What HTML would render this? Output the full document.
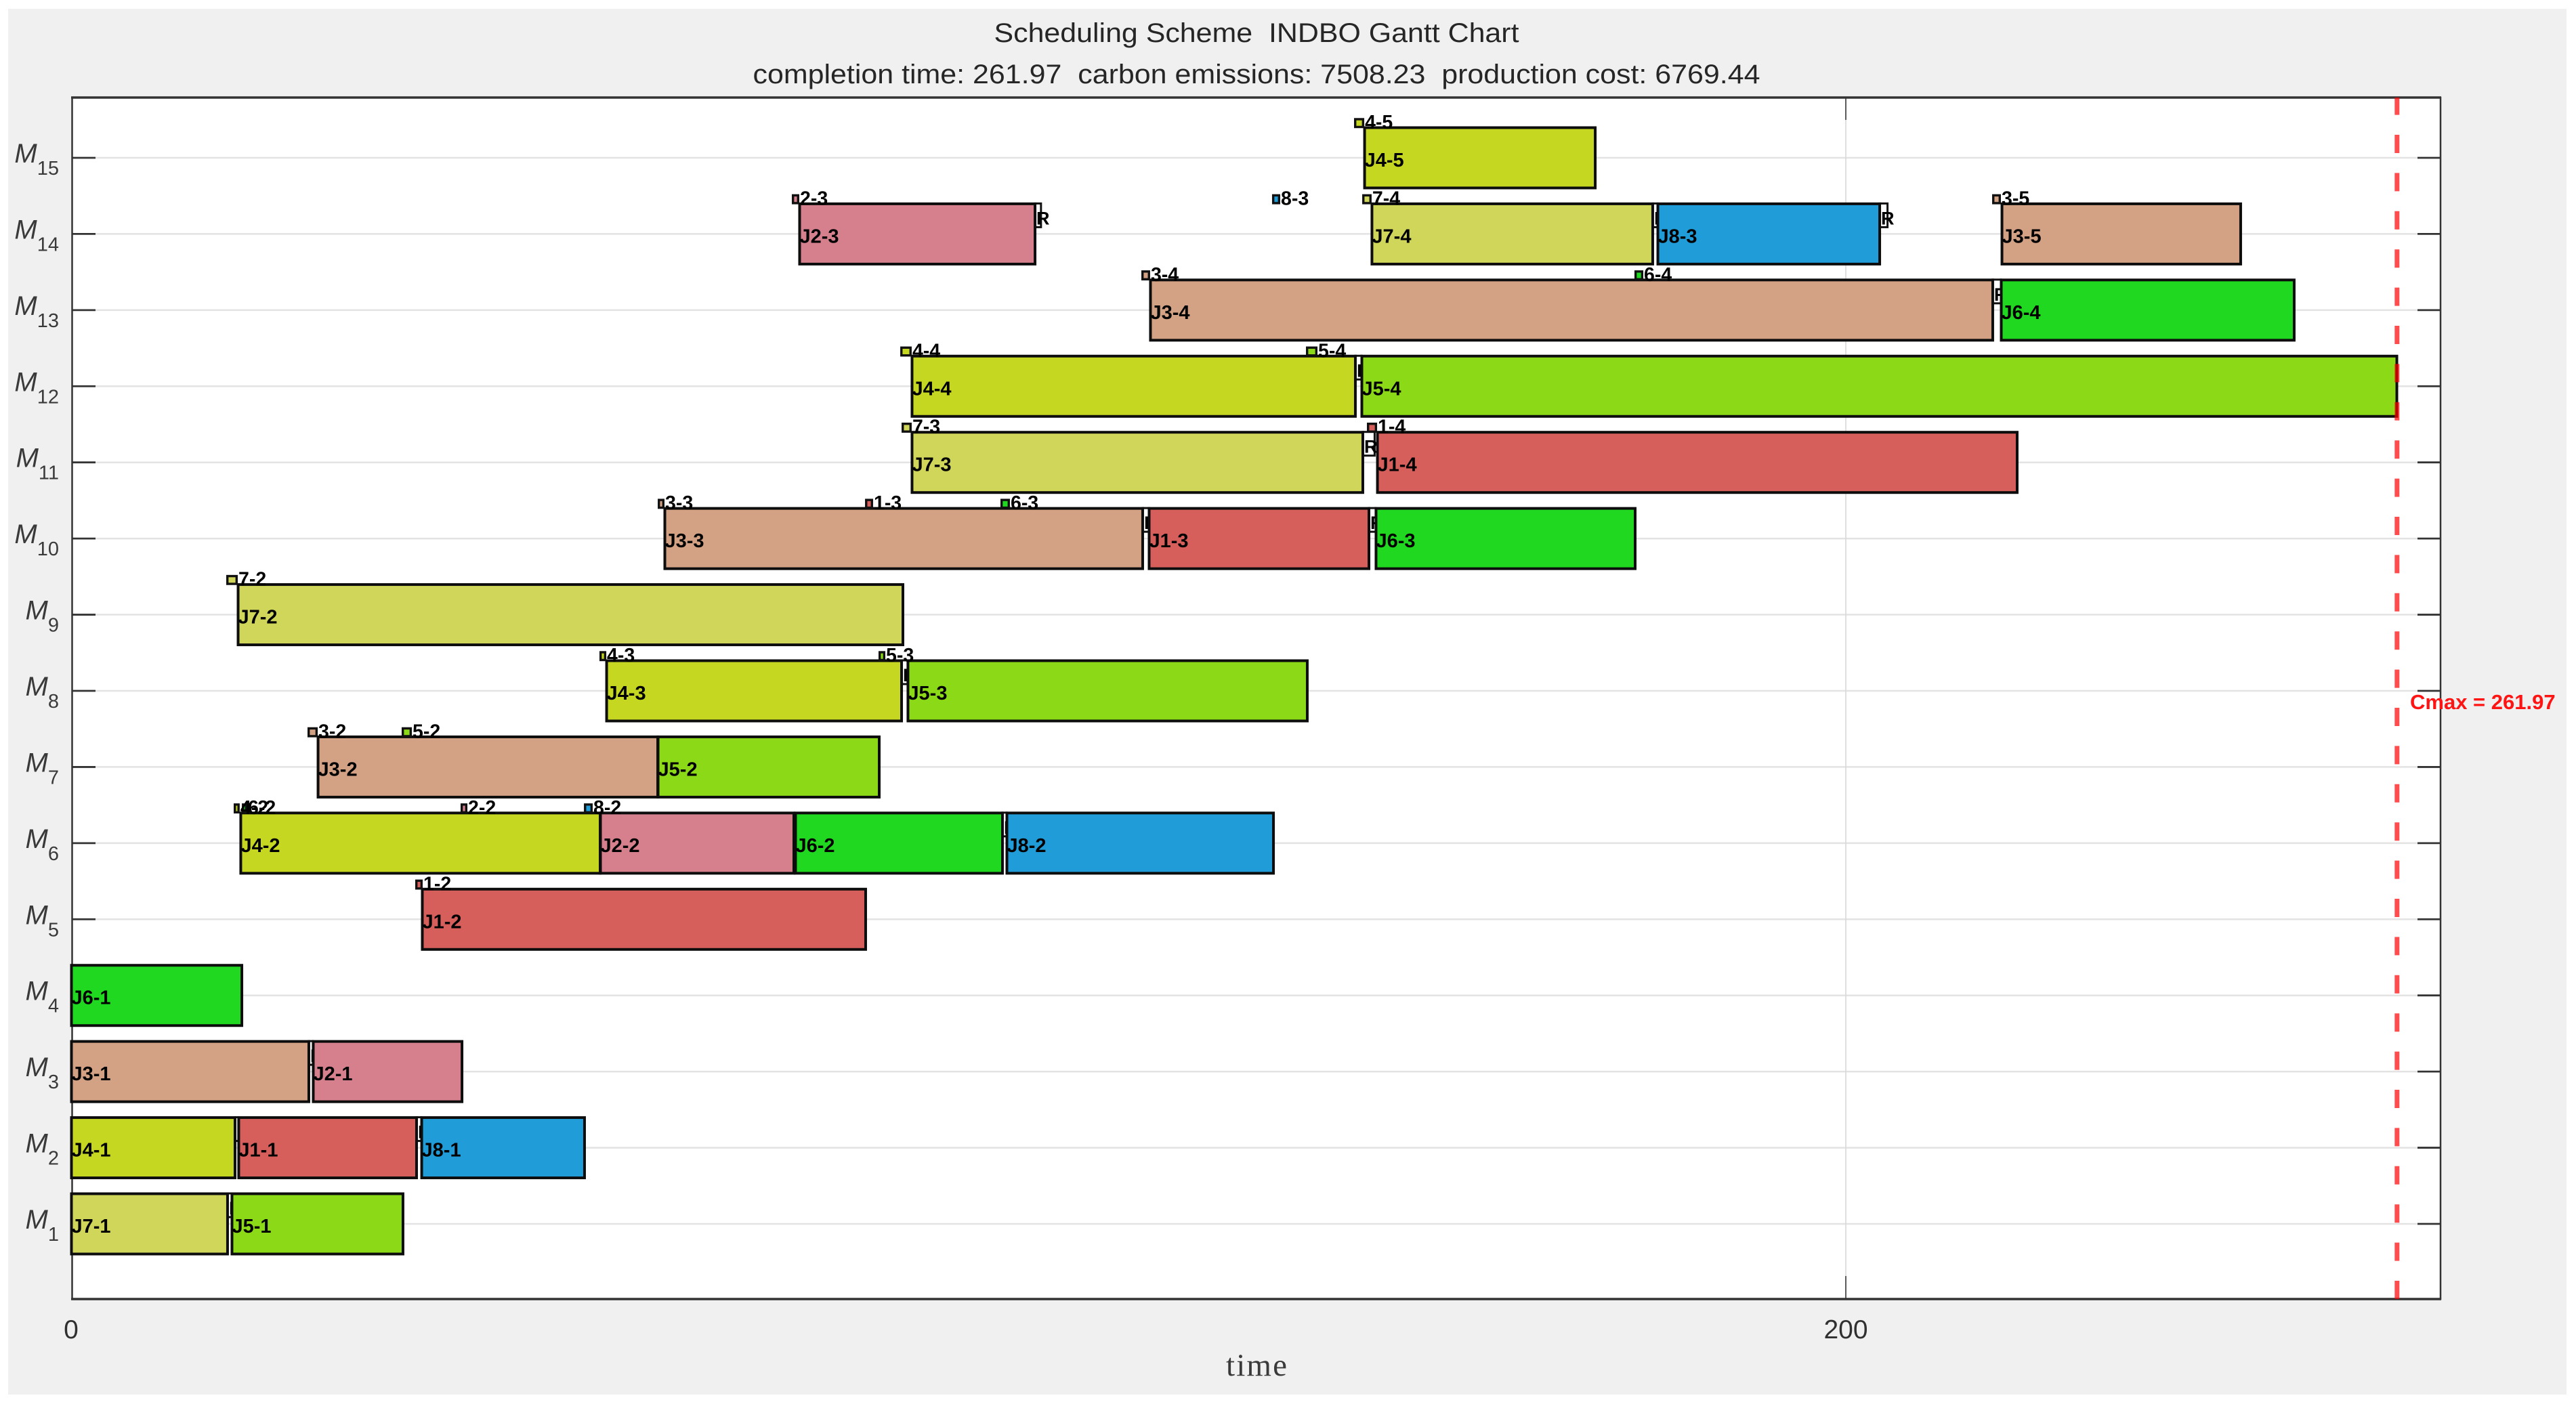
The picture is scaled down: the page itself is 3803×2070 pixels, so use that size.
<!DOCTYPE html>
<html lang="en">
<head>
<meta charset="utf-8">
<title>Scheduling Scheme INDBO Gantt Chart</title>
<style>
html,body{margin:0;padding:0;background:#fff;width:3803px;height:2070px;overflow:hidden}
svg{display:block;font-family:"Liberation Sans",Arial,sans-serif}
</style>
</head>
<body>
<svg id="chart" xmlns="http://www.w3.org/2000/svg" width="3803" height="2070" viewBox="0 0 3803 2070">
  <rect x="12" y="13" width="3777" height="2046" fill="#f0f0f0"/>
  <rect x="106" y="144" width="3497" height="1774" fill="#ffffff"/>
  <g id="grid"></g>
  <g id="axes">
    <line x1="106.5" y1="143" x2="106.5" y2="1919" stroke="#333" stroke-width="2.5"/>
    <line x1="3603" y1="143" x2="3603" y2="1919" stroke="#333" stroke-width="2.5"/>
    <line x1="105" y1="144" x2="3604" y2="144" stroke="#333" stroke-width="3.5"/>
    <line x1="105" y1="1918" x2="3604" y2="1918" stroke="#333" stroke-width="3.5"/>
  </g>
  <g id="ticks"></g>
  <g id="rsegs"></g>
  <g id="bars"></g>
  <g id="markers"></g>
  <g id="marks-text"></g>
  <g id="cmax"></g>
  <text x="1855" y="62" text-anchor="middle" font-size="40" fill="#262626" textLength="775" lengthAdjust="spacingAndGlyphs" xml:space="preserve">Scheduling Scheme  INDBO Gantt Chart</text>
  <text x="1855" y="123" text-anchor="middle" font-size="40" fill="#262626" textLength="1487" lengthAdjust="spacingAndGlyphs" xml:space="preserve">completion time: 261.97  carbon emissions: 7508.23  production cost: 6769.44</text>
  <text x="1855" y="2031" text-anchor="middle" font-size="47" fill="#3a3a3a" style="font-family:'Liberation Serif',serif" textLength="90" lengthAdjust="spacing">time</text>
</svg>
<script>
// ---- chart data ----
const machineIds = [1,2,3,4,5,6,7,8,9,10,11,12,13,14,15];
const xTickValues = [0,200];
const cmaxValue = 261.97;

// operations
const opLabels   = ['J7-1','J5-1','J4-1','J1-1','J8-1','J3-1','J2-1','J6-1','J1-2','J4-2','J2-2','J6-2','J8-2','J3-2','J5-2','J4-3','J5-3','J7-2','J3-3','J1-3','J6-3','J7-3','J1-4','J4-4','J5-4','J3-4','J6-4','J2-3','J7-4','J8-3','J3-5','J4-5'];
const opMachines = [1,1,2,2,2,3,3,4,5,6,6,6,6,7,7,8,8,9,10,10,10,11,11,12,12,13,13,14,14,14,14,15];
const opStarts   = [0,18.09,0,18.85,39.47,0,27.25,0,39.54,19.08,59.62,81.6,105.42,27.79,66.11,60.31,94.27,18.78,66.87,121.45,147.02,94.73,147.18,94.73,145.42,121.6,217.48,82.06,146.56,178.78,217.56,145.73];
const opEnds     = [17.63,37.4,18.47,38.93,57.86,26.79,44.05,19.24,89.54,59.62,81.45,104.96,135.5,66.11,91.07,93.59,139.31,93.74,120.76,146.26,176.26,145.57,219.31,144.73,262.1,216.56,250.53,108.63,178.24,203.82,244.5,171.76];

// ready markers
const markerLabels   = ['4-5','2-3','8-3','7-4','3-5','3-4','6-4','4-4','5-4','7-3','1-4','3-3','1-3','6-3','7-2','4-3','5-3','3-2','5-2','4-2','6-2','2-2','8-2','1-2'];
const markerMachines = [15,14,14,14,14,13,13,12,12,11,11,10,10,10,9,8,8,7,7,6,6,6,6,5];
const markerStarts   = [144.58,81.22,135.34,145.5,216.49,120.61,176.18,93.44,139.16,93.59,146.03,66.11,89.47,104.73,17.48,59.54,90.99,26.64,37.25,18.32,19.24,43.89,57.79,38.78];
const markerEnds     = [145.73,82.06,136.26,146.56,217.48,121.6,177.18,94.73,140.46,94.73,147.18,66.87,90.38,105.8,18.78,60.31,91.76,27.79,38.4,19,19.85,44.66,58.78,39.62];

// repair segments
const repairMachines = [14,14,14,13,12,11,10,10,8,6,3,2,2,1];
const repairStarts   = [108.63,178.24,203.82,216.56,144.73,145.57,120.76,146.26,93.59,104.96,26.79,18.47,38.93,17.63];
const repairEnds     = [109.3,178.78,204.7,217.48,145.42,146.9,121.45,147.02,94.27,105.42,27.25,18.85,39.47,18.09];

// palette (job number to fill)
const jobColors = {1:'#d65f5c',2:'#d5808c',3:'#d3a183',4:'#c6d722',5:'#8cd918',6:'#20d820',7:'#d0d65a',8:'#209cd8'};

// ---- axis functions ----
const NS = 'http://www.w3.org/2000/svg';
const xScale = t => 105 + t * 13.1;
const yScale = m => 1807 - (m - 1) * 112.43;
const BAR_HALF = 45;

function make(parent, tag, attrs, text) {
  const el = document.createElementNS(NS, tag);
  for (const k in attrs) el.setAttribute(k, attrs[k]);
  if (text !== undefined) el.textContent = text;
  parent.appendChild(el);
  return el;
}
const gridG = document.getElementById('grid');
const rsegG = document.getElementById('rsegs');
const barsG = document.getElementById('bars');
const markG = document.getElementById('markers');
const textG = document.getElementById('marks-text');
const tickG = document.getElementById('ticks');
const cmaxG = document.getElementById('cmax');

// grid + y ticks
machineIds.forEach(m => {
  const y = yScale(m);
  const g = make(gridG, 'line', {x1:141, x2:3569, y1:y, y2:y, stroke:'#e3e3e3', 'stroke-width':2.5});
  
  
  const tl = make(tickG, 'line', {x1:107, x2:141, y1:y, y2:y, stroke:'#333', 'stroke-width':2.8});
  
  
  const tr = make(tickG, 'line', {x1:3569, x2:3603, y1:y, y2:y, stroke:'#333', 'stroke-width':2.8});
  
  
  const lab = make(tickG, 'text', {x:87, y:y + 7, 'text-anchor':'end', fill:'#3a3a3a'});
  
  
  make(lab, 'tspan', {'font-size':40, 'font-style':'italic'}, 'M');
  make(lab, 'tspan', {'font-size':29, dy:18}, String(m));
});

// x ticks
xTickValues.forEach(v => {
  const x = xScale(v);
  if (v > 0) {
    const g = make(gridG, 'line', {x1:x, x2:x, y1:177, y2:1884, stroke:'#d9d9d9', 'stroke-width':1.6});
    
    
    const t1 = make(tickG, 'line', {x1:x, x2:x, y1:144, y2:177, stroke:'#333', 'stroke-width':1.6});
    
    
    const t2 = make(tickG, 'line', {x1:x, x2:x, y1:1884, y2:1918, stroke:'#333', 'stroke-width':1.6});
    
    
  }
  const lab = make(tickG, 'text', {x:x, y:1976, 'text-anchor':'middle', 'font-size':39, fill:'#303030'}, String(v));
  
  
});

// repair segments
repairMachines.forEach((m, i) => {
  const top = yScale(m) - BAR_HALF;
  const x0 = xScale(repairStarts[i]);
  const x1 = xScale(repairEnds[i]);
  const r = make(rsegG, 'rect', {x:x0, y:top, width:x1 - x0, height:35, fill:'#ffffff', stroke:'#111', 'stroke-width':3});
  
  
  const t = make(rsegG, 'text', {x:x0 + 2, y:top + 31, 'font-size':27, 'font-weight':'bold', fill:'#000'}, 'R');
  
  
});

// operation bars
opLabels.forEach((label, i) => {
  const job = label.charAt(1);
  const c = yScale(opMachines[i]);
  const x0 = xScale(opStarts[i]);
  const x1 = xScale(opEnds[i]);
  const r = make(barsG, 'rect', {x:x0 + 0.5, y:c - BAR_HALF + 0.5, width:x1 - x0 - 0.5, height:BAR_HALF * 2 - 1, fill:jobColors[job], stroke:'#0d0d0d', 'stroke-width':4});
  
  
  const t = make(textG, 'text', {x:x0 + 0.5, y:c + 13, 'font-size':29, 'font-weight':'bold', fill:'#000'}, label);
  
  
});

// ready markers
markerLabels.forEach((label, i) => {
  const job = label.charAt(0);
  const top = yScale(markerMachines[i]) - BAR_HALF;
  const x0 = xScale(markerStarts[i]);
  const x1 = xScale(markerEnds[i]);
  const r = make(markG, 'rect', {x:x0 + 1.7, y:top - 12, width:Math.max(x1 - x0 - 3.4, 1), height:11.5, fill:jobColors[job], stroke:'#111', 'stroke-width':3.4});
  
  
  const t = make(textG, 'text', {x:x1 + 1, y:top + 2, 'font-size':28.5, 'font-weight':'bold', fill:'#000'}, label);
  
  
});

// Cmax line + label
const cx = xScale(cmaxValue) + 2;
const cl = make(cmaxG, 'line', {x1:cx, x2:cx, y1:1918, y2:144, stroke:'#ff0000', 'stroke-opacity':0.7, 'stroke-width':7, 'stroke-dasharray':'27 29.4'});


const ct = make(cmaxG, 'text', {x:3558, y:1047, 'font-size':31, 'font-weight':'bold', fill:'#ff1414'}, 'Cmax = ' + cmaxValue.toFixed(2));


</script>
</body>
</html>
